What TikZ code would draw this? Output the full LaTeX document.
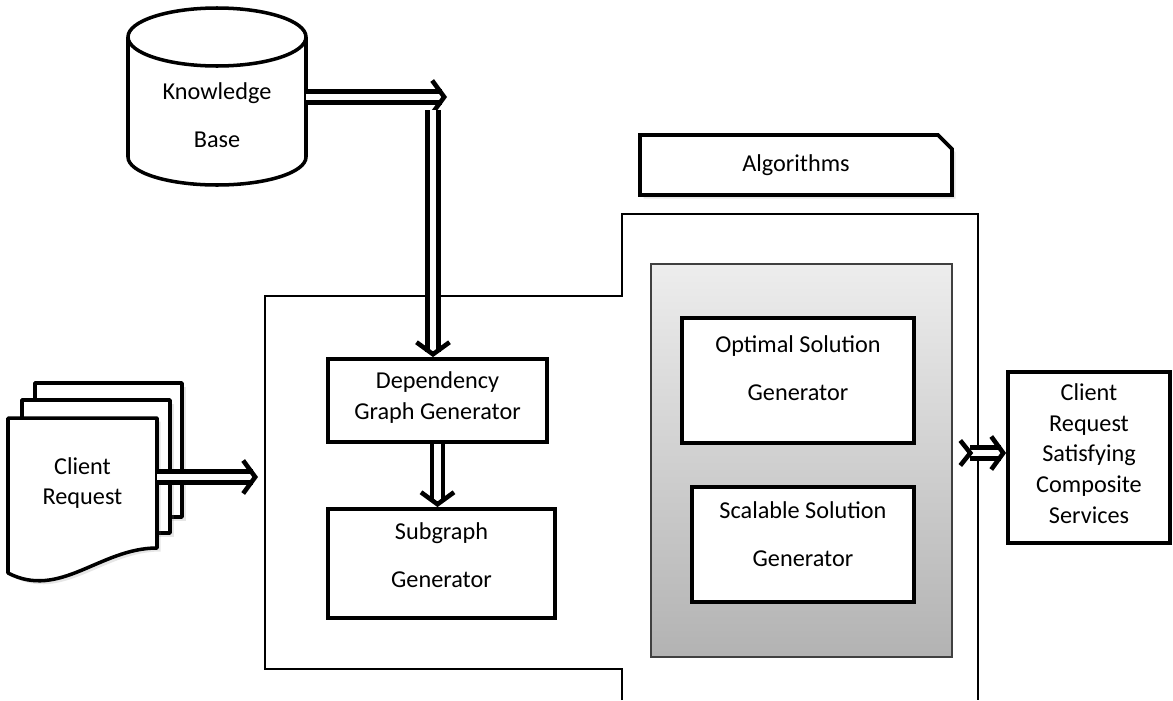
\documentclass[tikz,border=0pt]{standalone}
\usepackage{fontspec}
\setmainfont{Carlito}
\usetikzlibrary{arrows.meta,fit,shapes.misc,shadows}

\begin{document}
\begin{tikzpicture}[x=0.02cm,y=-0.02cm,
  tight/.style={align=center, font=\fontsize{13.8}{17.5}\selectfont},
  wide/.style={align=center, font=\fontsize{13.8}{27.5}\selectfont},
  genbox/.style={draw, line width=2.2pt, fill=white, inner sep=0pt},
  dblarrow/.style={double, double distance=3.8pt, line width=2.6pt,
    -{Straight Barb[length=0.24cm, width=0.66cm, line width=2.6pt]}},
  pageline/.style={draw, line width=2pt, fill=white, line join=round},
  shade/.style={drop shadow={opacity=0.2, shadow xshift=0.07cm, shadow yshift=-0.07cm}}
]
\useasboundingbox (0,0) rectangle (1173,700);

% knowledge base
\fill[white] (128,37) -- (128,157)
  arc[start angle=180, end angle=0, x radius=89, y radius=28] -- (306,37) -- cycle;
\draw[line width=2pt] (128,37) -- (128,157)
  arc[start angle=180, end angle=0, x radius=89, y radius=28] -- (306,37);
\draw[line width=2pt] (217,37) ellipse[x radius=89, y radius=29];
\node[fit={(128,37) (306,157)}, inner sep=0pt,
  label={[wide, yshift=-0.37cm]center:Knowledge\\Base}] (kb) {};

% composition area
\draw[line width=0.8pt] (622,700) -- (622,669) -- (265,669) -- (265,296)
  -- (622,296) -- (622,214) -- (978,214) -- (978,700);

\node[genbox, fit={(328,359) (547,442)},
  label={[tight, yshift=0.06cm]center:Dependency\\Graph Generator}] (dep) {};
\node[genbox, fit={(328,509) (555,618)},
  label={[wide, yshift=0.17cm]center:Subgraph\\Generator}] (sub) {};

% algorithms
\node[genbox, chamfered rectangle, chamfered rectangle corners=north east,
  chamfered rectangle xsep=0.14cm, chamfered rectangle ysep=0.14cm, shade,
  fit={(647,142) (945,188)}, label={[tight]center:Algorithms}] (alg) {};
\node[fit={(651,264) (952,657)}, inner sep=0pt, draw=black!75, line width=0.8pt,
  top color=black!7, bottom color=black!30] (panel) {};
\node[genbox, fit={(682,318) (914,443)},
  label={[wide, yshift=0.24cm]center:Optimal Solution\\Generator}] (opt) {};
\node[genbox, fit={(692,487) (914,602)},
  label={[wide, yshift=0.21cm]center:Scalable Solution\\Generator}] (scal) {};

% output
\node[genbox, fit={(1008,372) (1170,543)},
  label={[tight, yshift=0.08cm]center:Client\\Request\\Satisfying\\Composite\\Services}] (out) {};

% client request pages
\draw[pageline, shade] (35,383) rectangle (182,517);
\draw[pageline, shade] (22,400) rectangle (170,533);
\draw[pageline, shade] (8,418) -- (157,418) -- (157,548)
  .. controls (100,548) and (60,600) .. (8,573) -- cycle;
\node[fit={(8,418) (157,548)}, inner sep=0pt,
  label={[tight]center:Client\\Request}] (req) {};

% arrows
\coordinate (kbhead) at (447,97);
\coordinate (kbdrop) at (433,110);
\coordinate (corein) at (258,477);
\coordinate (outtail) at (958,453);
\draw[dblarrow] (kb.east |- kbhead) -- (kbhead);
\draw[dblarrow] (kbdrop) -- (kbdrop |- dep.north);
\draw[dblarrow] (req.east |- corein) -- (corein);
\draw[dblarrow] (dep.south) -- (dep.south |- sub.north);
\draw[dblarrow, {Straight Barb[reversed, length=0.2cm, width=0.5cm, line width=2.6pt]}-{Straight Barb[length=0.24cm, width=0.66cm, line width=2.6pt]}]
  (outtail) -- (outtail -| out.west);
\end{tikzpicture}
\end{document}
